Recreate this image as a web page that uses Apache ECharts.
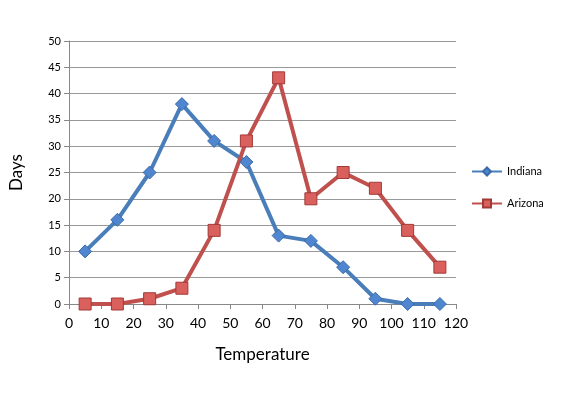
<!DOCTYPE html>
<html><head><meta charset="utf-8">
<script src="https://cdn.jsdelivr.net/npm/echarts@6/dist/echarts.min.js"></script>
<style>html,body{margin:0;background:#fff}#c{width:562px;height:412px}</style>
</head><body><div id="c"></div>
<script>
var temps = [5, 15, 25, 35, 45, 55, 65, 75, 85, 95, 105, 115];
var indiana = [10, 16, 25, 38, 31, 27, 13, 12, 7, 1, 0, 0];
var arizona = [0, 0, 1, 3, 14, 31, 43, 20, 25, 22, 14, 7];

function pairs(v){ return temps.map(function(t,i){ return [t, v[i]]; }); }

var chart = echarts.init(document.getElementById('c'));
var font = 'Lato, "DejaVu Sans", sans-serif';
chart.setOption({
    animation: false,
    grid: {left: 68, right: 106, top: 41, bottom: 108},
    legend: {
        orient: 'vertical', left: 466, top: 161, itemGap: 21,
        itemWidth: 30, itemHeight: 10,
        textStyle: {fontFamily: font, fontSize: 11, color: '#000'},
        data: ['Indiana', 'Arizona']
    },
    xAxis: {
        type: 'value', min: 0, max: 120, interval: 10,
        name: 'Temperature', nameLocation: 'middle', nameGap: 42,
        nameTextStyle: {fontFamily: font, fontSize: 17, color: '#000'},
        axisLine: {lineStyle: {color: '#888'}},
        axisTick: {show: true, lineStyle: {color: '#888'}},
        axisLabel: {fontFamily: font, fontSize: 14, color: '#000', margin: 12},
        splitLine: {show: false}
    },
    yAxis: {
        type: 'value', min: 0, max: 50, interval: 5,
        name: 'Days', nameLocation: 'middle', nameGap: 44,
        nameTextStyle: {fontFamily: font, fontSize: 17, color: '#000'},
        axisLine: {show: true, lineStyle: {color: '#888'}},
        axisTick: {show: true, lineStyle: {color: '#888'}},
        axisLabel: {fontFamily: font, fontSize: 11, color: '#000'},
        splitLine: {lineStyle: {color: '#999'}}
    },
    series: [
        {name: 'Indiana', type: 'line', data: pairs(indiana),
         symbol: 'diamond', symbolSize: 13,
         lineStyle: {color: '#4a7ebb', width: 4},
         itemStyle: {color: '#4f86cf', borderColor: '#3a6aa8', borderWidth: 1}},
        {name: 'Arizona', type: 'line', data: pairs(arizona),
         symbol: 'rect', symbolSize: 12,
         lineStyle: {color: '#c0504d', width: 4},
         itemStyle: {color: '#d9605c', borderColor: '#a03a37', borderWidth: 1}}
    ]
});
</script></body></html>
